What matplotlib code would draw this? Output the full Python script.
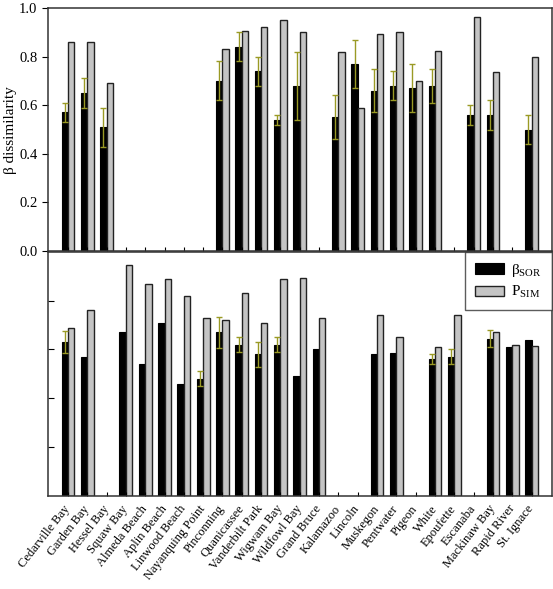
import numpy as np
import matplotlib
matplotlib.use('Agg')
import matplotlib.pyplot as plt

nan = np.nan

sites = ['Cedarville Bay', 'Garden Bay', 'Hessel Bay', 'Squaw Bay', 'Almeda Beach',
         'Aplin Beach', 'Linwood Beach', 'Nayanquing Point', 'Pinconning', 'Quanicassee',
         'Vanderbilt Park', 'Wigwam Bay', 'Wildfowl Bay', 'Grand Bruce', 'Kalamazoo',
         'Lincoln', 'Muskegon', 'Pentwater', 'Pigeon', 'White', 'Epoufette', 'Escanaba',
         'Mackinaw Bay', 'Rapid River', 'St. Ignace']

# top panel
top_sor = [0.57, 0.65, 0.51, nan, nan, nan, nan, nan, 0.70, 0.84, 0.74, 0.54, 0.68, nan,
           0.55, 0.77, 0.66, 0.68, 0.67, 0.68, nan, 0.56, 0.56, nan, 0.50]
top_sor_err = [0.04, 0.06, 0.08, nan, nan, nan, nan, nan, 0.08, 0.06, 0.06, 0.02, 0.14, nan,
               0.09, 0.10, 0.09, 0.06, 0.10, 0.07, nan, 0.04, 0.06, nan, 0.06]
top_sim = [0.86, 0.86, 0.69, nan, nan, nan, nan, nan, 0.83, 0.905, 0.92, 0.95, 0.90, nan,
           0.82, 0.59, 0.895, 0.90, 0.70, 0.825, nan, 0.965, 0.735, nan, 0.80]

# bottom panel
bot_sor = [0.63, 0.57, nan, 0.67, 0.54, 0.71, 0.46, 0.48, 0.67, 0.62, 0.58, 0.62, 0.49, 0.60,
           nan, nan, 0.58, 0.585, nan, 0.56, 0.57, nan, 0.645, 0.61, 0.64]
bot_sor_err = [0.045, nan, nan, nan, nan, nan, nan, 0.03, 0.065, 0.03, 0.05, 0.03, nan, nan,
               nan, nan, nan, nan, nan, 0.02, 0.03, nan, 0.035, nan, nan]
bot_sim = [0.69, 0.76, nan, 0.945, 0.87, 0.89, 0.82, 0.73, 0.72, 0.83, 0.71, 0.89, 0.895, 0.73,
           nan, nan, 0.74, 0.65, nan, 0.61, 0.74, nan, 0.67, 0.62, 0.615]

plt.rcParams['font.family'] = ['Liberation Serif', 'DejaVu Serif']
plt.rcParams['mathtext.fontset'] = 'custom'
plt.rcParams['mathtext.rm'] = 'Liberation Serif'
plt.rcParams['mathtext.it'] = 'Liberation Serif:italic'
plt.rcParams['font.size'] = 10

fig = plt.figure(figsize=(5.53, 5.89), dpi=100)
ax1 = fig.add_axes([48 / 553, 1 - 251 / 589, 503.5 / 553, 243 / 589])
ax2 = fig.add_axes([48 / 553, 1 - 495.7 / 589, 503.5 / 553, 243.7 / 589])

x = np.arange(len(sites))
w = 0.33
err_col = '#9a9a25'


def draw(ax, sor, err, sim):
    sor = np.array(sor)
    err = np.array(err)
    sim = np.array(sim)
    m = ~np.isnan(sor)
    b1 = ax.bar(x[m] - w / 2, sor[m], w, color='black', edgecolor='black', linewidth=0.8)
    m2 = ~np.isnan(sim)
    b2 = ax.bar(x[m2] + w / 2, sim[m2], w, color='#c4c4c4', edgecolor='#222222', linewidth=1.0)
    me = ~np.isnan(err)
    ax.errorbar(x[me] - w / 2, sor[me], yerr=err[me], fmt='none', ecolor=err_col,
                elinewidth=1.0, capsize=2.5, capthick=1.0)
    ax.set_xlim(-1.03, len(sites) - 1 + 1.03)
    ax.set_ylim(0, 1.0)
    for s in ax.spines.values():
        s.set_color('#333333')
        s.set_linewidth(1.1)
    return b1, b2


draw(ax1, top_sor, top_sor_err, top_sim)
b1, b2 = draw(ax2, bot_sor, bot_sor_err, bot_sim)

ax1.set_yticks(np.arange(0, 1.01, 0.2))
ax1.set_yticklabels(['%.1f' % v for v in np.arange(0, 1.01, 0.2)], fontsize=10.5)
ax1.tick_params(axis='y', direction='out', length=4, width=0.8)
ax1.set_xticks(x)
ax1.set_xticklabels([])
ax1.tick_params(axis='x', direction='in', length=3, width=0.8)
fig.text(11 / 553, 1 - 130 / 589, 'β dissimilarity', rotation=90, fontsize=11,
         ha='center', va='center')

ax2.set_yticks([0.2, 0.4, 0.6, 0.8])
ax2.set_yticklabels([])
ax2.tick_params(axis='y', direction='in', length=4, width=0.8)
ax2.set_xticks(x)
ax2.set_xticklabels(sites, rotation=52, ha='right', va='center', rotation_mode='anchor',
                    fontsize=9)
ax2.tick_params(axis='x', direction='in', length=3, width=0.8, pad=8)

leg = ax2.legend([b1, b2], [r'β$_{\mathrm{SOR}}$', r'P$_{\mathrm{SIM}}$'],
                 loc='upper right', fontsize=11, frameon=True, fancybox=False,
                 borderpad=0.65, handlelength=1.9, handleheight=0.65, labelspacing=0.35,
                 handletextpad=0.45, borderaxespad=0)
leg.get_frame().set_edgecolor('#333333')
leg.get_frame().set_linewidth(1.0)

fig.savefig('out.png', dpi=100)
